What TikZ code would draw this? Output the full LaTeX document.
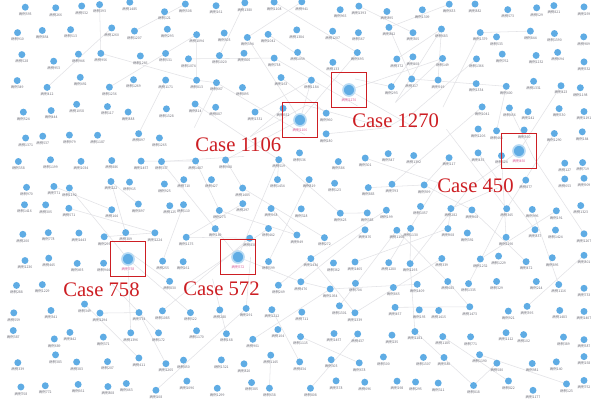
\documentclass[tikz,border=0pt]{standalone}
\usepackage{fontspec}
\setmainfont{Liberation Serif}
\newfontfamily\cjk{Noto Sans CJK SC}
\pgfdeclarelayer{bg}
\pgfdeclarelayer{paper}
\pgfsetlayers{paper,bg,main}
\definecolor{dotblue}{RGB}{95,172,228}
\definecolor{casered}{RGB}{205,30,35}
\definecolor{lblgray}{RGB}{110,110,120}
\definecolor{pinklbl}{RGB}{215,90,150}
\definecolor{edgegray}{RGB}{226,226,230}
\tikzset{
  dot/.style={circle,fill=dotblue,inner sep=0pt,minimum size=5.2pt},
  bigdot/.style={circle,fill=dotblue,draw=dotblue!45,line width=1.2pt,inner sep=0pt,minimum size=9pt},
  lbl/.style={font=\cjk\fontsize{2.6}{3}\selectfont,text=lblgray,inner sep=0pt},
  plbl/.style={font=\cjk\fontsize{2.6}{3}\selectfont,text=pinklbl,inner sep=0pt},
  edge/.style={draw=edgegray,line width=0.4pt},
  casebox/.style={draw=casered,line width=0.9pt,minimum size=26.5pt,inner sep=0pt},
  casetxt/.style={text=casered,font=\fontsize{15.5}{15.5}\selectfont,inner sep=0pt}
}
\begin{document}
\begin{tikzpicture}[x=0.75pt,y=-0.75pt]
\begin{pgfonlayer}{paper}
\fill[white] (0,0) rectangle (597,405);
\end{pgfonlayer}
\useasboundingbox (0,0) rectangle (597,405);
\pgfmathsetseed{11}
% grid of cases
\foreach \i in {0,...,20}{
  \foreach \j in {0,...,15}{
    \pgfmathsetmacro\px{min(584,20+\i*28.4+8*rand)}
    \pgfmathsetmacro\py{7+\j*25.2+5.5*rand}
    \coordinate (p-\i-\j) at (\px,\py);
    \pgfmathtruncatemacro\num{100+1400*rnd}
    \pgfmathsetmacro\d{min(veclen(\px-300,\py-120),veclen(\px-349,\py-90),veclen(\px-519,\py-151),veclen(\px-128,\py-259),veclen(\px-238,\py-257))}
    \pgfmathtruncatemacro\hit{((\px>343)&&(\px<449)&&(\py>100)&&(\py<135))||((\px>186)&&(\px<292)&&(\py>124)&&(\py<159))||((\px>428)&&(\px<523)&&(\py>165)&&(\py<200))||((\px>54)&&(\px<150)&&(\py>269)&&(\py<304))||((\px>174)&&(\px<268)&&(\py>268)&&(\py<303))}
    \ifdim\d pt>17pt
      \ifnum\hit=0
        \node[dot,label={[lbl,yshift=-1pt]below:病例\num}] (n-\i-\j) at (\px,\py) {};
      \fi
    \fi
  }
}
% case nodes
\node[bigdot,label={[plbl,yshift=-1pt]below:病例1106}] (c1106) at (300,120) {};
\node[bigdot,label={[plbl,yshift=-1pt]below:病例1270}] (c1270) at (349,90) {};
\node[bigdot,label={[plbl,yshift=-1pt]below:病例450}] (c450) at (519,151) {};
\node[bigdot,label={[plbl,yshift=-1pt]below:病例758}] (c758) at (128,259) {};
\node[bigdot,label={[plbl,yshift=-1pt]below:病例572}] (c572) at (238,257) {};
% edges
\begin{pgfonlayer}{bg}
\foreach \i in {3,...,18}{
  \foreach \j in {1,...,14}{
    \pgfmathsetmacro\r{rnd}
    \ifdim\r pt<0.5pt
      \pgfmathtruncatemacro\a{max(0,min(20,\i+round(3.4*rand)))}
      \pgfmathtruncatemacro\b{max(0,min(15,\j+round(3*rand)))}
      \draw[edge] (p-\i-\j) -- (p-\a-\b);
    \fi
  }
}
\foreach \c/\m in {c1106/10-3,c1106/7-6,c1106/12-2,c1106/8-1,c1270/14-5,c1270/9-1,c1270/15-2,c450/16-7,c450/19-3,c758/2-7,c758/6-12,c572/10-11,c572/5-6,c572/9-6,c758/4-13}{
  \draw[edge] (\c) -- (p-\m);
}
\end{pgfonlayer}
% case boxes
\node[casebox] (b1106) at (300,120) {};
\node[casebox] (b1270) at (349,90) {};
\node[casebox] (b450) at (519,151) {};
\node[casebox] (b758) at (128,259) {};
\node[casebox] (b572) at (238,257) {};
% case captions
\node[casetxt,anchor=west] (t1270) at (352,121) {Case 1270};
\node[casetxt,anchor=west] (t1106) at (195,145) {Case 1106};
\node[casetxt,anchor=west] (t450) at (437,186) {Case 450};
\node[casetxt,anchor=west] (t758) at (63,290) {Case 758};
\node[casetxt,anchor=west] (t572) at (183,289) {Case 572};
\end{tikzpicture}
\end{document}
